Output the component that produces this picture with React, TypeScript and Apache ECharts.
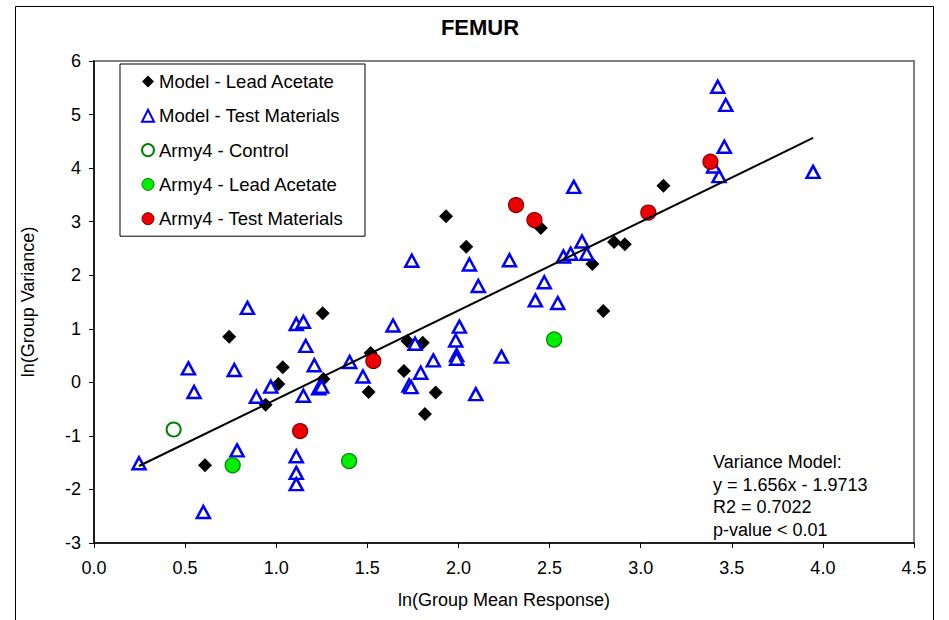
import React, { useEffect, useRef } from "react";
import * as echarts from "echarts";

const leadAcetateX = [0.742, 0.609, 1.255, 1.036, 1.012, 0.942, 1.259, 1.932, 2.043, 2.452, 1.518, 1.72, 1.804, 1.701, 1.507, 1.875, 1.816, 3.125, 2.854, 2.913, 2.735, 2.795];
const leadAcetateY = [0.85, -1.55, 1.29, 0.28, -0.03, -0.42, 0.06, 3.1, 2.53, 2.88, 0.55, 0.77, 0.74, 0.21, -0.18, -0.19, -0.59, 3.67, 2.62, 2.58, 2.21, 1.33];

const testMatX = [0.842, 1.11, 1.149, 1.162, 0.518, 0.77, 1.209, 0.549, 0.97, 0.891, 1.149, 1.233, 1.249, 0.785, 0.247, 1.11, 1.11, 1.11, 0.6,
  1.744, 2.06, 2.28, 2.576, 2.616, 2.109, 2.471, 2.422, 2.545, 1.641, 2.005, 1.985, 1.762, 1.99, 1.99, 2.236, 1.403, 1.862, 1.476, 1.793, 1.729, 1.74, 2.095,
  3.423, 3.467, 3.459, 3.43, 3.4, 3.946, 2.633, 2.678, 2.704];
const testMatY = [1.39, 1.09, 1.13, 0.68, 0.26, 0.23, 0.32, -0.18, -0.08, -0.27, -0.25, -0.11, -0.08, -1.27, -1.51, -1.38, -1.69, -1.9, -2.42,
  2.27, 2.2, 2.28, 2.35, 2.4, 1.8, 1.87, 1.53, 1.48, 1.06, 1.04, 0.78, 0.72, 0.51, 0.44, 0.48, 0.38, 0.41, 0.11, 0.18, -0.06, -0.09, -0.22,
  5.52, 5.18, 4.4, 3.85, 4.03, 3.93, 3.65, 2.63, 2.4];

const armyControlX = [0.437];
const armyControlY = [-0.88];
const armyLeadX = [0.761, 1.4, 2.525];
const armyLeadY = [-1.55, -1.47, 0.8];
const armyTestX = [1.131, 1.533, 2.316, 2.417, 3.042, 3.383];
const armyTestY = [-0.91, 0.4, 3.31, 3.03, 3.17, 4.12];

const slope = 1.656;
const intercept = -1.9713;

const seriesNames = ["Model - Lead Acetate", "Model - Test Materials", "Army4 - Control", "Army4 - Lead Acetate", "Army4 - Test Materials"];
const annotationLines = ["Variance Model:", "y = 1.656x - 1.9713", "R2 = 0.7022", "p-value < 0.01"];
const xTicks = { min: 0, max: 4.5, interval: 0.5 };
const yTicks = { min: -3, max: 6, interval: 1 };

const zip = (xs: number[], ys: number[]) => xs.map((x, i) => [x, ys[i]]);

const FONT = "'Liberation Sans', Arial, sans-serif";

export default function App() {
  const ref = useRef<HTMLDivElement>(null);
  useEffect(() => {
    if (!ref.current) return;
    const chart = echarts.init(ref.current, null, { renderer: "svg" });
    const allModelX = [...leadAcetateX, ...testMatX];
    const xMin = Math.min(...allModelX);
    const xMax = Math.max(...allModelX);
    const lineData = [[xMin, slope * xMin + intercept], [xMax, slope * xMax + intercept]];

    chart.setOption({
      animation: false,
      backgroundColor: "#fff",
      textStyle: { fontFamily: FONT },
      grid: { left: 94, top: 61, right: 35, bottom: 77, show: true, borderColor: "#808080", borderWidth: 2, backgroundColor: "#fff" },
      legend: {
        orient: "vertical",
        left: 120,
        top: 64,
        padding: [8, 22, 8, 21],
        itemGap: 15.3,
        itemWidth: 12,
        itemHeight: 12,
        borderColor: "#000",
        borderWidth: 1,
        backgroundColor: "#fff",
        textStyle: { fontFamily: FONT, fontSize: 18.5, color: "#000" },
        data: [
          { name: seriesNames[0], icon: "diamond", itemStyle: { color: "#000", borderWidth: 0 } },
          { name: seriesNames[1], icon: "triangle", itemStyle: { color: "#fff", borderColor: "#0000ff", borderWidth: 2 } },
          { name: seriesNames[2], icon: "circle", itemStyle: { color: "#fff", borderColor: "#008000", borderWidth: 2 } },
          { name: seriesNames[3], icon: "circle", itemStyle: { color: "#00ee00", borderColor: "#008000", borderWidth: 1 } },
          { name: seriesNames[4], icon: "circle", itemStyle: { color: "#ee0000", borderColor: "#800000", borderWidth: 1 } },
        ],
      },
      xAxis: {
        type: "value",
        min: xTicks.min,
        max: xTicks.max,
        interval: xTicks.interval,
        name: "ln(Group Mean Response)",
        nameLocation: "middle",
        nameGap: 48,
        nameTextStyle: { fontFamily: FONT, fontSize: 18, color: "#000" },
        axisLine: { show: true, onZero: false, lineStyle: { color: "#000", width: 1.5 } },
        axisTick: { show: true, inside: false, length: 5, lineStyle: { color: "#000" } },
        axisLabel: { fontFamily: FONT, fontSize: 18, color: "#000", margin: 16, formatter: (v: number) => v.toFixed(1) },
        splitLine: { show: false },
      },
      yAxis: {
        type: "value",
        min: yTicks.min,
        max: yTicks.max,
        interval: yTicks.interval,
        name: "ln(Group Variance)",
        nameLocation: "middle",
        nameGap: 57,
        nameTextStyle: { fontFamily: FONT, fontSize: 18, color: "#000" },
        axisLine: { show: true, onZero: false, lineStyle: { color: "#000", width: 1.5 } },
        axisTick: { show: true, inside: false, length: 5, lineStyle: { color: "#000" } },
        axisLabel: { fontFamily: FONT, fontSize: 18, color: "#000", margin: 13 },
        splitLine: { show: false },
      },
      series: [
        {
          name: seriesNames[0], type: "scatter", symbol: "diamond", symbolSize: 14, z: 2,
          itemStyle: { color: "#000", opacity: 1 }, data: zip(leadAcetateX, leadAcetateY),
        },
        {
          name: seriesNames[1], type: "scatter", symbol: "triangle", symbolSize: [13, 12], z: 3,
          itemStyle: { color: "#ffffc8", borderColor: "#0000ff", borderWidth: 2.5, opacity: 1 }, data: zip(testMatX, testMatY),
        },
        {
          name: seriesNames[2], type: "scatter", symbol: "circle", symbolSize: 14, z: 4,
          itemStyle: { color: "#fff", borderColor: "#008000", borderWidth: 2, opacity: 1 }, data: zip(armyControlX, armyControlY),
        },
        {
          name: seriesNames[3], type: "scatter", symbol: "circle", symbolSize: 15, z: 4,
          itemStyle: { color: "#00ee00", borderColor: "#008000", borderWidth: 1.2, opacity: 1 }, data: zip(armyLeadX, armyLeadY),
        },
        {
          name: seriesNames[4], type: "scatter", symbol: "circle", symbolSize: 15, z: 4,
          itemStyle: { color: "#ee0000", borderColor: "#800000", borderWidth: 1.2, opacity: 1 }, data: zip(armyTestX, armyTestY),
        },
        {
          name: "trend", type: "line", data: lineData, symbol: "none", z: 5, silent: true,
          lineStyle: { color: "#000", width: 2 },
        },
      ],
      graphic: [
        { type: "rect", shape: { x: 15.5, y: 6.5, width: 918, height: 640 }, style: { fill: "none", stroke: "#000", lineWidth: 1 }, z: 0, silent: true },
        { type: "text", x: 480, y: 27, style: { text: "FEMUR", font: `bold 22px ${FONT}`, fill: "#000", textAlign: "center", textVerticalAlign: "middle" }, z: 10 },
        ...annotationLines.map((t, i) => ({
          type: "text", x: 713, y: 462 + i * 22.6,
          style: { text: t, font: `18px ${FONT}`, fill: "#000", textAlign: "left", textVerticalAlign: "middle" }, z: 10,
        })),
      ],
    });
    return () => chart.dispose();
  }, []);
  return <div ref={ref} style={{ position: "fixed", left: 0, top: 0, width: 949, height: 620 }} />;
}
